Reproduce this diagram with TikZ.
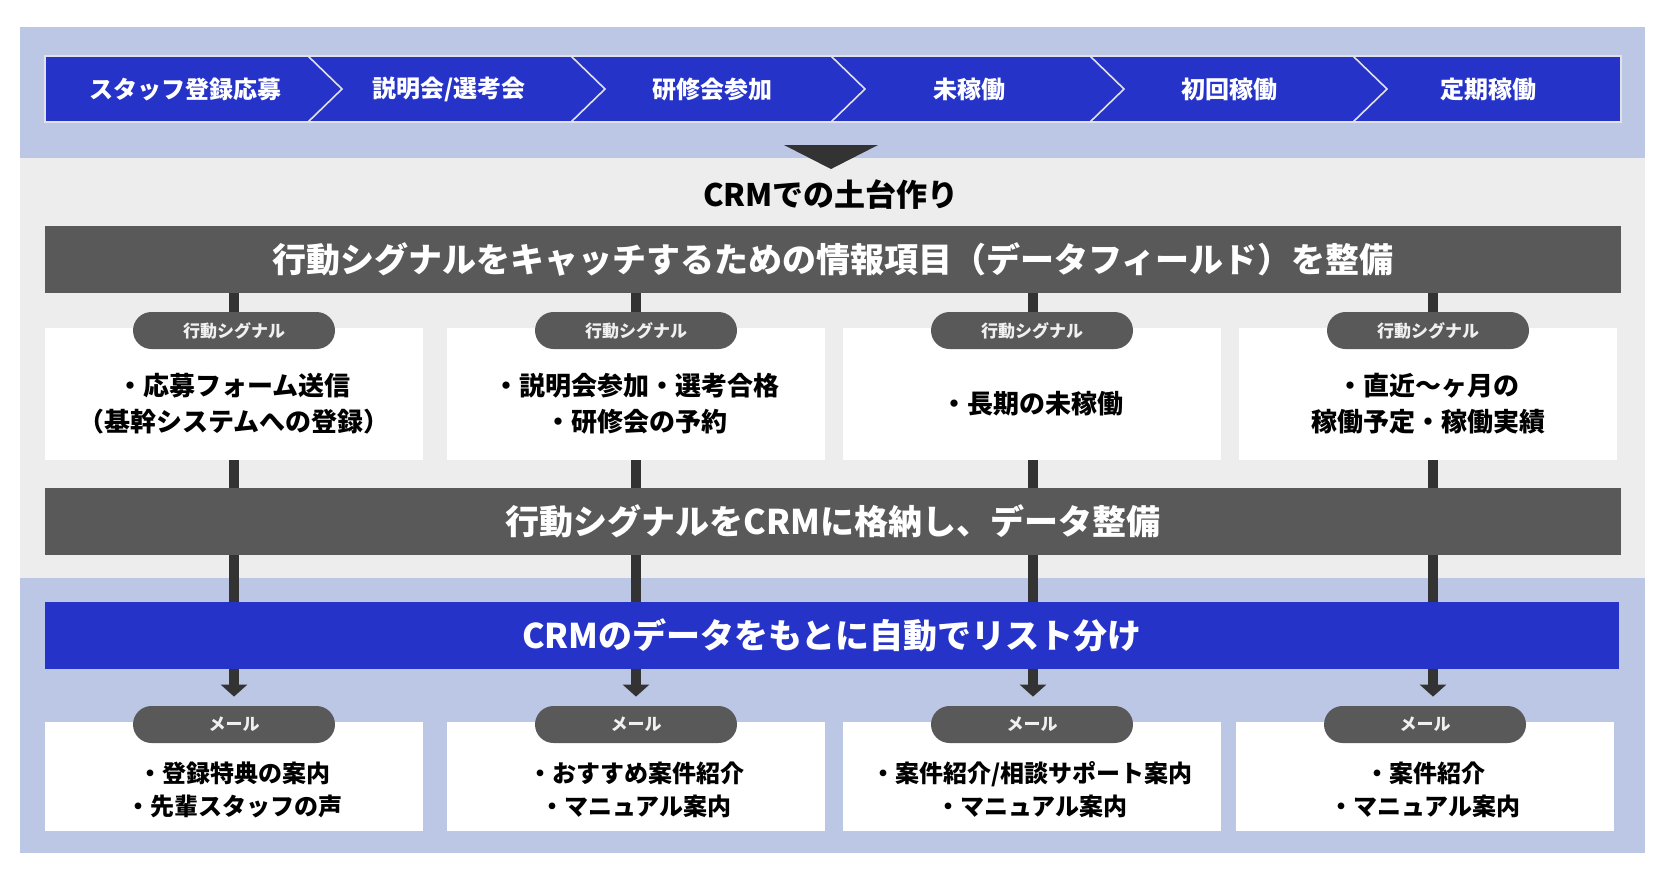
\documentclass[tikz,border=0pt]{standalone}
\usepackage{fontspec}
\setmainfont{Noto Sans CJK JP}
\usetikzlibrary{arrows.meta}
\definecolor{bandblue}{RGB}{188,199,229}
\definecolor{bggray}{RGB}{237,237,237}
\definecolor{mainblue}{RGB}{38,51,200}
\definecolor{darkbar}{RGB}{89,89,89}
\definecolor{connc}{RGB}{51,51,51}
\definecolor{edgew}{RGB}{225,225,232}
\begin{document}
\begin{tikzpicture}[x=0.5pt,y=-0.5pt,
  stagelbl/.style={text=white, inner sep=0, font=\fontsize{12}{14}\selectfont\bfseries},
  barbox/.style={fill=darkbar, minimum width=788pt, minimum height=33.5pt, inner sep=0, text=white, font=\fontsize{17}{20}\selectfont\bfseries},
  bluebox/.style={fill=mainblue, minimum width=787pt, minimum height=33.5pt, inner sep=0, text=white, font=\fontsize{17}{20}\selectfont\bfseries},
  sigbox/.style={fill=white, minimum width=189pt, minimum height=66pt, inner sep=0},
  mailbox/.style={fill=white, minimum width=189pt, minimum height=54.5pt, inner sep=0},
  pill/.style={fill=darkbar, rounded corners=9.25pt, minimum width=101pt, minimum height=18.5pt, inner sep=0, text=white!94!black, font=\fontsize{8.5}{10}\selectfont\bfseries},
  sigtext/.style={align=center, inner sep=0, font=\fontsize{13}{18}\selectfont\bfseries},
  mailtext/.style={align=center, inner sep=0, font=\fontsize{12}{16.5}\selectfont\bfseries},
  conn/.style={draw=connc, line width=5pt},
  connarrow/.style={conn, -{Triangle[width=13pt,length=6pt]}, shorten >=4.5pt}
]
% backgrounds
\useasboundingbox (0,0) rectangle (1668,874);
\fill[white] (0,0) rectangle (1668,874);
\fill[bandblue] (20,27) rectangle (1645,158);
\fill[bggray] (20,158) rectangle (1645,578);
\fill[bandblue] (20,578) rectangle (1645,853);

% stage bar
\fill[mainblue] (45,56) rectangle (1621,122);
\draw[edgew, line width=0.8pt] (45,56) rectangle (1621,122);
\foreach \xc in {308,571,831,1090,1353}{
  \draw[edgew, line width=0.8pt] (\xc,56) -- (\xc+34,89) -- (\xc,122);
}
\node[stagelbl] (st1) at (185,89) {スタッフ登録応募};
\node[stagelbl] (st2) at (449,89) {説明会/選考会};
\node[stagelbl] (st3) at (712,89) {研修会参加};
\node[stagelbl] (st4) at (969,89) {未稼働};
\node[stagelbl] (st5) at (1229,89) {初回稼働};
\node[stagelbl] (st6) at (1488,89) {定期稼働};

% down triangle
\fill[connc] (784,145) -- (878,145) -- (831,169) -- cycle;

\node[inner sep=0, font=\fontsize{15.5}{18}\selectfont\bfseries] (crm) at (831,195) {CRMでの土台作り};

% bars
\node[barbox] (bar1) at (833,259.5) {行動シグナルをキャッチするための情報項目（データフィールド）を整備};
\node[barbox] (bar2) at (833,521.5) {行動シグナルをCRMに格納し、データ整備};
\node[bluebox] (blue) at (832,635.5) {CRMのデータをもとに自動でリスト分け};

% columns
\coordinate (c1) at (234,0);
\coordinate (c2) at (636,0);
\coordinate (c3) at (1033,0);
\coordinate (c4) at (1433,0);

% signal boxes
\node[sigbox] (sb1) at (234,394) {};
\node[sigbox] (sb2) at (636,394) {};
\node[sigbox] (sb3) at (1032,394) {};
\node[sigbox] (sb4) at (1428,394) {};
\node[pill] (sp1) at (234,330.5) {行動シグナル};
\node[pill] (sp2) at (636,330.5) {行動シグナル};
\node[pill] (sp3) at (1032,330.5) {行動シグナル};
\node[pill] (sp4) at (1428,330.5) {行動シグナル};
\node[sigtext] (stx1) at (234,404) {・応募フォーム送信\\（基幹システムへの登録）};
\node[sigtext] (stx2) at (636,404) {・説明会参加・選考合格\\・研修会の予約};
\node[sigtext] (stx3) at (1032,404) {・長期の未稼働};
\node[sigtext] (stx4) at (1428,404) {・直近〜ヶ月の\\稼働予定・稼働実績};

% mail boxes
\node[mailbox] (mb1) at (234,776.5) {};
\node[mailbox] (mb2) at (636,776.5) {};
\node[mailbox] (mb3) at (1032,776.5) {};
\node[mailbox] (mb4) at (1425,776.5) {};
\node[pill] (mp1) at (234,724.5) {メール};
\node[pill] (mp2) at (636,724.5) {メール};
\node[pill] (mp3) at (1032,724.5) {メール};
\node[pill] (mp4) at (1425,724.5) {メール};
\node[mailtext] (mtx1) at (234,790) {・登録特典の案内\\・先輩スタッフの声};
\node[mailtext] (mtx2) at (636,790) {・おすすめ案件紹介\\・マニュアル案内};
\node[mailtext] (mtx3) at (1032,790) {・案件紹介/相談サポート案内\\・マニュアル案内};
\node[mailtext] (mtx4) at (1425,790) {・案件紹介\\・マニュアル案内};

% connectors
\foreach \i in {1,2,3,4}{
  \draw[conn] (bar1.south -| c\i) -- (sp\i.north -| c\i);
  \draw[conn] (sb\i.south -| c\i) -- (bar2.north -| c\i);
  \draw[conn] (bar2.south -| c\i) -- (blue.north -| c\i);
  \draw[connarrow] (blue.south -| c\i) -- (mp\i.north -| c\i);
}
\end{tikzpicture}
\end{document}
